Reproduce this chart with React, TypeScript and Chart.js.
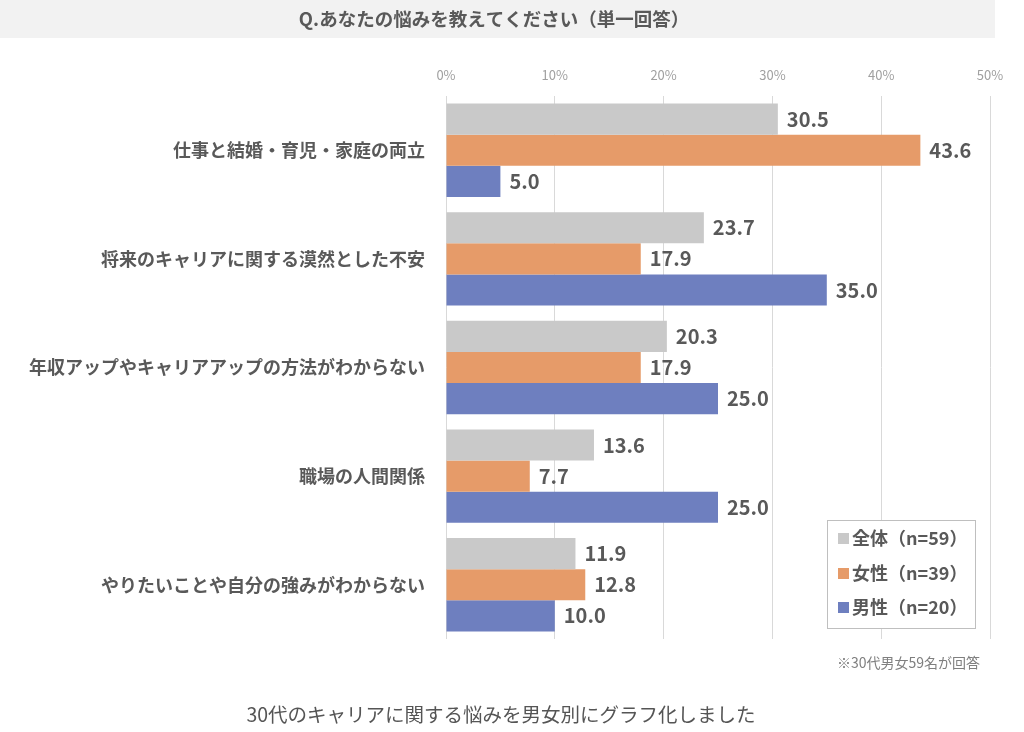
import React, { useEffect, useRef } from "react";
import { Chart, registerables } from "chart.js";

Chart.register(...registerables);

const titleText = "Q.あなたの悩みを教えてください（単一回答）";
const categories = [
  "仕事と結婚・育児・家庭の両立",
  "将来のキャリアに関する漠然とした不安",
  "年収アップやキャリアアップの方法がわからない",
  "職場の人間関係",
  "やりたいことや自分の強みがわからない",
];
const seriesNames = ["全体（n=59）", "女性（n=39）", "男性（n=20）"];
const allValues = [30.5, 23.7, 20.3, 13.6, 11.9];
const femaleValues = [43.6, 17.9, 17.9, 7.7, 12.8];
const maleValues = [5.0, 35.0, 25.0, 25.0, 10.0];
const seriesColors = ["#c9c9c9", "#e69b69", "#6e7fbf"];
const xTicks = [0, 10, 20, 30, 40, 50];
const footnote = "※30代男女59名が回答";
const caption = "30代のキャリアに関する悩みを男女別にグラフ化しました";

const FONT = "'Noto Sans CJK JP', 'Noto Sans', sans-serif";
const TEXT = "#595959";

const decorPlugin = {
  id: "decor",
  beforeDraw(chart: any) {
    const ctx = chart.ctx;
    ctx.save();
    ctx.fillStyle = "#f2f2f2";
    ctx.fillRect(0, 0, 995, 38);
    ctx.fillStyle = TEXT;
    ctx.font = `bold 18.5px ${FONT}`;
    ctx.textAlign = "center";
    ctx.textBaseline = "middle";
    ctx.fillText(titleText, 494, 19);
    ctx.restore();
  },
  afterDatasetsDraw(chart: any) {
    const ctx = chart.ctx;
    ctx.save();
    ctx.fillStyle = TEXT;
    ctx.font = `bold 20px ${FONT}`;
    ctx.textAlign = "left";
    ctx.textBaseline = "middle";
    chart.data.datasets.forEach((ds: any, di: number) => {
      const meta = chart.getDatasetMeta(di);
      meta.data.forEach((bar: any, i: number) => {
        ctx.fillText(Number(ds.data[i]).toFixed(1), bar.x + 9, bar.y);
      });
    });
    ctx.restore();
  },
  afterDraw(chart: any) {
    const ctx = chart.ctx;
    ctx.save();
    // legend box
    ctx.fillStyle = "#ffffff";
    ctx.fillRect(827, 520, 148, 108);
    ctx.strokeStyle = "#bfbfbf";
    ctx.lineWidth = 1;
    ctx.strokeRect(827.5, 520.5, 148, 108);
    ctx.font = `bold 18px ${FONT}`;
    ctx.textAlign = "left";
    ctx.textBaseline = "middle";
    const ys = [538, 573, 607];
    chart.data.datasets.forEach((ds: any, di: number) => {
      ctx.fillStyle = ds.backgroundColor;
      ctx.fillRect(838, ys[di] - 5, 11, 11);
      ctx.fillStyle = TEXT;
      ctx.fillText(ds.label, 852, ys[di]);
    });
    // footnote
    ctx.fillStyle = "#7f7f7f";
    ctx.font = `14px ${FONT}`;
    ctx.textAlign = "right";
    ctx.fillText(footnote, 980, 663);
    // caption
    ctx.fillStyle = "#555555";
    ctx.font = `19.5px ${FONT}`;
    ctx.textAlign = "center";
    ctx.fillText(caption, 501, 715);
    ctx.restore();
  },
};

export default function App() {
  const ref = useRef<HTMLCanvasElement | null>(null);
  useEffect(() => {
    if (!ref.current) return;
    const chart = new Chart(ref.current, {
      type: "bar",
      data: {
        labels: categories,
        datasets: [
          { label: seriesNames[0], data: allValues, backgroundColor: seriesColors[0] },
          { label: seriesNames[1], data: femaleValues, backgroundColor: seriesColors[1] },
          { label: seriesNames[2], data: maleValues, backgroundColor: seriesColors[2] },
        ],
      },
      options: {
        indexAxis: "y",
        responsive: false,
        animation: false,
        devicePixelRatio: 1,
        layout: { padding: { left: 0, top: 0, right: 34, bottom: 93 } },
        datasets: { bar: { categoryPercentage: 0.86, barPercentage: 1 } },
        plugins: { legend: { display: false }, tooltip: { enabled: false }, title: { display: false } },
        scales: {
          x: {
            position: "top",
            min: 0,
            max: 50,
            afterBuildTicks: (scale: any) => {
              scale.ticks = xTicks.map((v) => ({ value: v }));
            },
            afterFit: (scale: any) => {
              scale.height = 96;
            },
            grid: { color: "#d9d9d9", lineWidth: 1, drawTicks: false },
            border: { display: false },
            ticks: {
              padding: 13,
              color: "#a0a0a0",
              font: { family: FONT, size: 13 },
              callback: (v: any) => `${v}%`,
            },
          },
          y: {
            afterFit: (scale: any) => {
              scale.width = 446;
            },
            grid: { display: false, drawTicks: false },
            border: { display: false },
            ticks: {
              padding: 21,
              color: TEXT,
              font: { family: FONT, size: 18, weight: "bold" },
            },
          },
        },
      },
      plugins: [decorPlugin],
    } as any);
    return () => chart.destroy();
  }, []);
  return (
    <div style={{ position: "absolute", left: 0, top: 0, width: 1024, height: 732, background: "#fff" }}>
      <canvas ref={ref} width={1024} height={732} style={{ display: "block" }} />
    </div>
  );
}
